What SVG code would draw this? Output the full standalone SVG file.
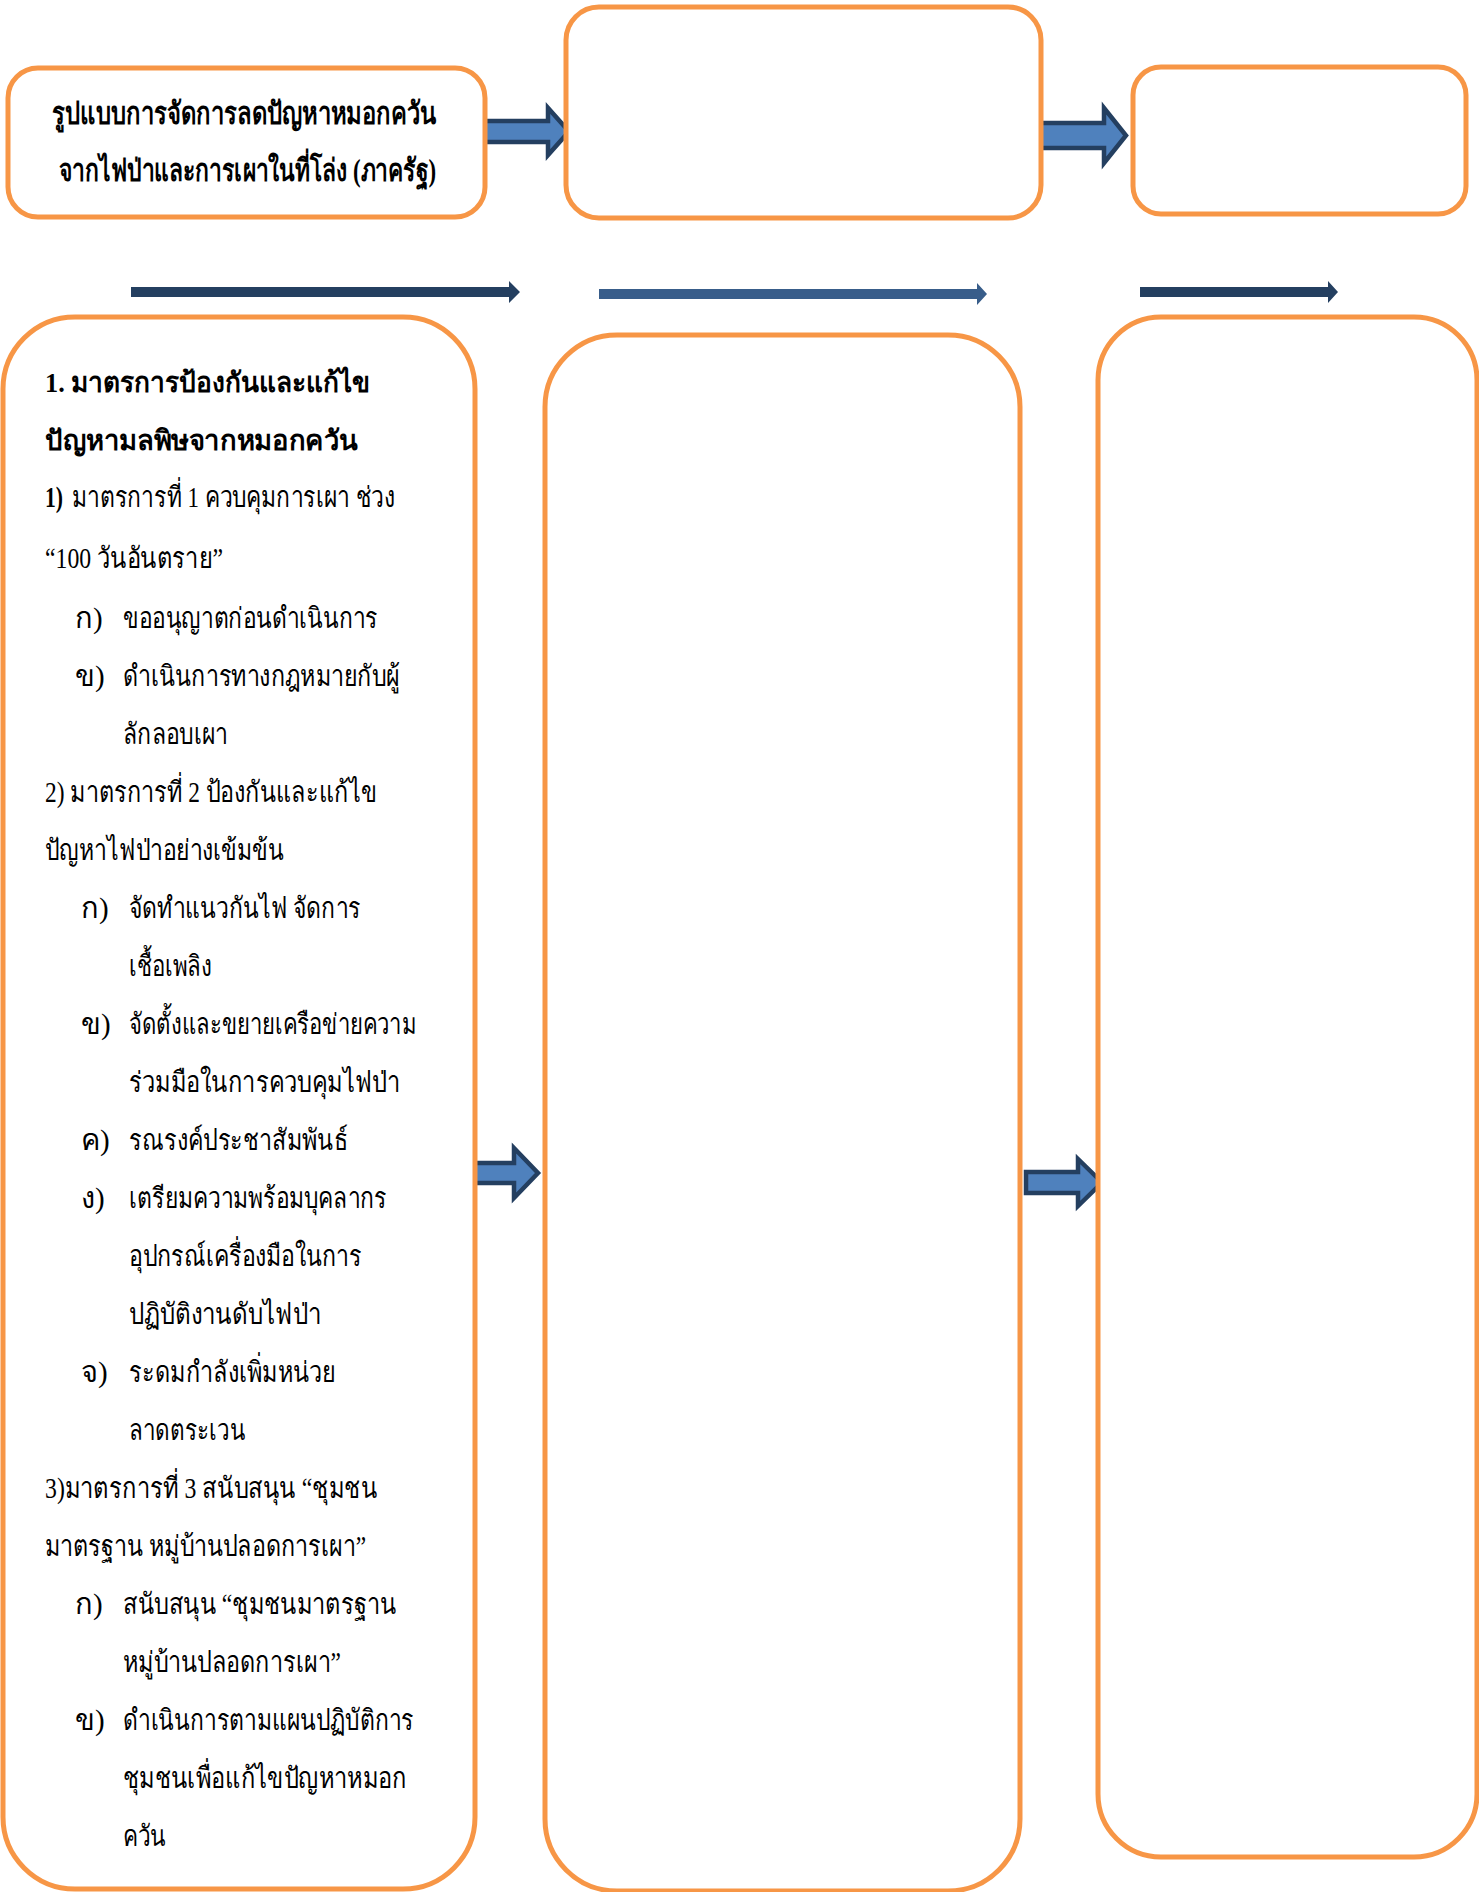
<svg xmlns="http://www.w3.org/2000/svg" width="1479" height="1892" viewBox="0 0 1479 1892">
<style>
.box{fill:#FFFFFF;stroke:#F79646;stroke-width:5}
.blk{fill:#4F81BD;stroke:#243F60;stroke-width:4.5;stroke-linejoin:miter}
.t{font-family:"Liberation Serif","Noto Sans",serif;font-size:29px;fill:#000000}
.h{font-size:31px}
.k{font-size:28px}
.b{font-weight:bold}
</style>
<rect width="1479" height="1892" fill="#FFFFFF"/>
<g id="connectors">
<polygon class="blk" points="483,121 548,121 548,108 569,131.5 548,155 548,142 483,142"/>
<polygon class="blk" points="1040,123 1104,123 1104,108 1126,135.5 1104,163 1104,148 1040,148"/>
<polygon class="blk" points="474,1163 514,1163 514,1148 538,1173 514,1198 514,1183 474,1183"/>
<polygon class="blk" points="1026,1172 1078,1172 1078,1159 1102,1182.5 1078,1206 1078,1193 1026,1193"/>
<polygon fill="#243F60" points="131,287 509,287 509,281 520,292 509,303 509,297 131,297"/>
<polygon fill="#385D8A" points="599,289 977,289 977,283 987,294 977,305 977,299 599,299"/>
<polygon fill="#243F60" points="1140,287 1328,287 1328,281 1338,292 1328,303 1328,297 1140,297"/>
</g>
<g id="node-model">
<rect class="box" x="8" y="68" width="477" height="149" rx="30"/>
<text class="t h b" x="52" y="124" textLength="384" lengthAdjust="spacingAndGlyphs">รูปแบบการจัดการลดปัญหาหมอกควัน</text>
<text class="t h b" x="59" y="181" textLength="377" lengthAdjust="spacingAndGlyphs">จากไฟป่าและการเผาในที่โล่ง (ภาครัฐ)</text>
</g>
<g id="node-top-middle">
<rect class="box" x="566" y="7" width="475" height="211" rx="33"/>
</g>
<g id="node-top-right">
<rect class="box" x="1133" y="67" width="333" height="147" rx="28"/>
</g>
<g id="node-measures">
<rect class="box" x="3" y="317" width="472" height="1572" rx="72"/>
<text class="t k b" x="45" y="392" textLength="325" lengthAdjust="spacingAndGlyphs">1. มาตรการป้องกันและแก้ไข</text>
<text class="t k b" x="45" y="450" textLength="313" lengthAdjust="spacingAndGlyphs">ปัญหามลพิษจากหมอกควัน</text>
<text class="t b" x="45" y="507" textLength="18" lengthAdjust="spacingAndGlyphs">1)</text>
<text class="t" x="72" y="507" textLength="323" lengthAdjust="spacingAndGlyphs">มาตรการที่ 1 ควบคุมการเผา ช่วง</text>
<text class="t" x="45" y="568" textLength="178" lengthAdjust="spacingAndGlyphs">“100 วันอันตราย”</text>
<text class="t" x="75" y="628">ก)</text>
<text class="t" x="123" y="628" textLength="255" lengthAdjust="spacingAndGlyphs">ขออนุญาตก่อนดำเนินการ</text>
<text class="t" x="75" y="686">ข)</text>
<text class="t" x="123" y="686" textLength="277" lengthAdjust="spacingAndGlyphs">ดำเนินการทางกฎหมายกับผู้</text>
<text class="t" x="123" y="744" textLength="105" lengthAdjust="spacingAndGlyphs">ลักลอบเผา</text>
<text class="t" x="45" y="802" textLength="332" lengthAdjust="spacingAndGlyphs">2) มาตรการที่ 2 ป้องกันและแก้ไข</text>
<text class="t" x="45" y="860" textLength="239" lengthAdjust="spacingAndGlyphs">ปัญหาไฟป่าอย่างเข้มข้น</text>
<text class="t" x="81" y="918">ก)</text>
<text class="t" x="129" y="918" textLength="232" lengthAdjust="spacingAndGlyphs">จัดทำแนวกันไฟ จัดการ</text>
<text class="t" x="129" y="976" textLength="83" lengthAdjust="spacingAndGlyphs">เชื้อเพลิง</text>
<text class="t" x="81" y="1034">ข)</text>
<text class="t" x="129" y="1034" textLength="287" lengthAdjust="spacingAndGlyphs">จัดตั้งและขยายเครือข่ายความ</text>
<text class="t" x="129" y="1092" textLength="271" lengthAdjust="spacingAndGlyphs">ร่วมมือในการควบคุมไฟป่า</text>
<text class="t" x="81" y="1150">ค)</text>
<text class="t" x="129" y="1150" textLength="219" lengthAdjust="spacingAndGlyphs">รณรงค์ประชาสัมพันธ์</text>
<text class="t" x="81" y="1208">ง)</text>
<text class="t" x="129" y="1208" textLength="258" lengthAdjust="spacingAndGlyphs">เตรียมความพร้อมบุคลากร</text>
<text class="t" x="129" y="1266" textLength="233" lengthAdjust="spacingAndGlyphs">อุปกรณ์เครื่องมือในการ</text>
<text class="t" x="129" y="1324" textLength="192" lengthAdjust="spacingAndGlyphs">ปฏิบัติงานดับไฟป่า</text>
<text class="t" x="81" y="1382">จ)</text>
<text class="t" x="129" y="1382" textLength="207" lengthAdjust="spacingAndGlyphs">ระดมกำลังเพิ่มหน่วย</text>
<text class="t" x="129" y="1440" textLength="116" lengthAdjust="spacingAndGlyphs">ลาดตระเวน</text>
<text class="t" x="45" y="1498" textLength="332" lengthAdjust="spacingAndGlyphs">3)มาตรการที่ 3 สนับสนุน “ชุมชน</text>
<text class="t" x="45" y="1556" textLength="321" lengthAdjust="spacingAndGlyphs">มาตรฐาน หมู่บ้านปลอดการเผา”</text>
<text class="t" x="75" y="1614">ก)</text>
<text class="t" x="123" y="1614" textLength="273" lengthAdjust="spacingAndGlyphs">สนับสนุน “ชุมชนมาตรฐาน</text>
<text class="t" x="123" y="1672" textLength="218" lengthAdjust="spacingAndGlyphs">หมู่บ้านปลอดการเผา”</text>
<text class="t" x="75" y="1730">ข)</text>
<text class="t" x="123" y="1730" textLength="291" lengthAdjust="spacingAndGlyphs">ดำเนินการตามแผนปฏิบัติการ</text>
<text class="t" x="123" y="1788" textLength="284" lengthAdjust="spacingAndGlyphs">ชุมชนเพื่อแก้ไขปัญหาหมอก</text>
<text class="t" x="123" y="1846" textLength="43" lengthAdjust="spacingAndGlyphs">ควัน</text>
</g>
<g id="node-middle-column">
<rect class="box" x="545" y="335" width="475" height="1556" rx="72"/>
</g>
<g id="node-right-column">
<rect class="box" x="1098" y="317" width="379" height="1540" rx="63"/>
</g>
</svg>
